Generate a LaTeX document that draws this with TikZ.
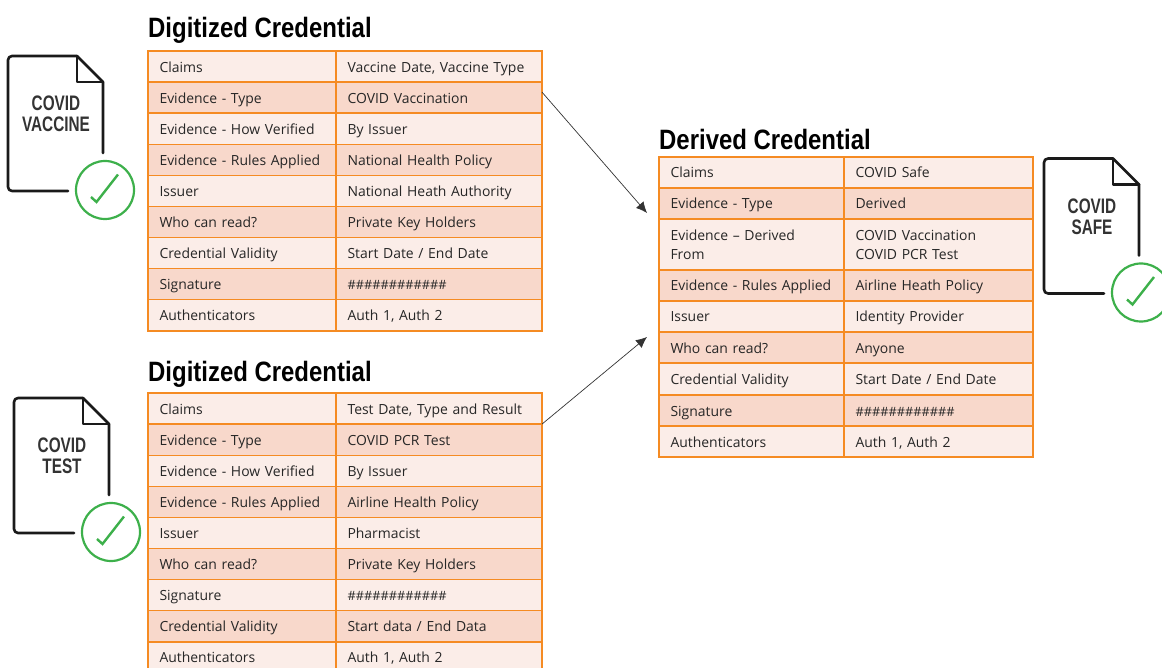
\documentclass[tikz,border=0pt]{standalone}
\usepackage{fontspec}
\setmainfont{Open Sans}
\newfontfamily\titlefont[FakeStretch=0.855]{Liberation Sans}
\newfontfamily\iconfont[FakeStretch=0.73]{Liberation Sans}
\usetikzlibrary{arrows.meta}
\definecolor{credorange}{HTML}{F58B23}
\definecolor{rowlight}{HTML}{FBEDE8}
\definecolor{rowdark}{HTML}{F8D8CB}
\definecolor{checkgreen}{HTML}{3DB04B}
\definecolor{docblack}{HTML}{1A1A1A}
\tikzset{
  credcell/.style={draw=credorange, line width=1.4pt, inner ysep=0pt, inner xsep=11.5pt, outer sep=0pt,
    anchor=north west, align=left, font=\fontsize{13.95}{19}\selectfont, text=black!85},
  credtitle/.style={anchor=base west, inner sep=0pt, font=\titlefont\bfseries\fontsize{28}{32}\selectfont},
  doclabel/.style={inner sep=0pt, align=center, text=black!80, font=\iconfont\bfseries\fontsize{21}{21}\selectfont},
  docline/.style={draw=docblack, line width=2.6pt, line cap=round, line join=round},
  flowarrow/.style={draw=black!80, line width=0.7pt, -{Latex[length=11pt,width=10pt]}}
}
\newcommand{\hashrun}{{\fontsize{12.8}{19}\selectfont\#\#\#\#\#\#\#\#\#\#\#\#}}
\newcommand{\credstrut}{\rule[-4pt]{0pt}{19pt}}
% one row of a table: name, left x, mid x, right x, top y, height, fill, two texts
\newcommand{\credrow}[9]{
\pgfmathsetmacro{\widthA}{#3-#2}
\pgfmathsetmacro{\widthB}{#4-#3}
\node[credcell, fill=#7, text width=\widthA pt-23pt, minimum height=#6 pt] (#1l) at (#2,#5) {\credstrut #8\credstrut};
\node[credcell, fill=#7, text width=\widthB pt-23pt, minimum height=#6 pt] (#1r) at (#3,#5) {\credstrut #9\credstrut};
}
% document icon with its tick
\newcommand{\covidicon}[4]{
\begin{scope}[shift={(#2,#3)}]
\draw[docline, rounded corners=4pt] (68,191) -- (8,191) -- (8,56) -- (77,56);
\draw[docline] (77,56) -- (103,82) -- (103,153);
\draw[docline] (77,56) -- (77,82) -- (103,82);
\node[doclabel] (#1label) at (56,114) {#4};
\node[circle, draw=checkgreen, line width=2.2pt, minimum size=58pt, inner sep=0pt] (#1check) at (105,190) {};
\draw[draw=checkgreen, line width=2.4pt] (91,197) -- (96.5,202) -- (118,174.5);
\end{scope}
}
\begin{document}
\begin{tikzpicture}[x=1pt,y=-1pt]
\useasboundingbox (0,0) rectangle (1162,668);

\covidicon{vaccine}{0}{0}{COVID\\VACCINE}
\covidicon{test}{6}{342}{COVID\\TEST}
\covidicon{safe}{1036}{102.5}{COVID\\SAFE}

\node[credtitle] (vactitle) at (148,38) {Digitized Credential};
\foreach \lab/\val [count=\n] in {Claims/{Vaccine Date, Vaccine Type}, Evidence - Type/COVID Vaccination, Evidence - How Verified/By Issuer, Evidence - Rules Applied/National Health Policy, Issuer/National Heath Authority, Who can read?/Private Key Holders, Credential Validity/{Start Date / End Date}, Signature/\hashrun, Authenticators/{Auth 1, Auth 2}}{
  \pgfmathsetmacro{\rowtop}{51+(\n-1)*31.1}
  \pgfmathparse{int(mod(\n,2))}
  \ifnum\pgfmathresult=1 \def\shade{rowlight}\else\def\shade{rowdark}\fi
  \credrow{vac\n}{148}{336}{542}{\rowtop}{31.1}{\shade}{\lab}{\val}
}

\node[credtitle] (testtitle) at (148,381) {Digitized Credential};
\foreach \lab/\val [count=\n] in {Claims/{Test Date, Type and Result}, Evidence - Type/COVID PCR Test, Evidence - How Verified/By Issuer, Evidence - Rules Applied/Airline Health Policy, Issuer/Pharmacist, Who can read?/Private Key Holders, Signature/\hashrun, Credential Validity/{Start data / End Data}, Authenticators/{Auth 1, Auth 2}}{
  \pgfmathsetmacro{\rowtop}{393+(\n-1)*31.1}
  \pgfmathparse{int(mod(\n,2))}
  \ifnum\pgfmathresult=1 \def\shade{rowlight}\else\def\shade{rowdark}\fi
  \credrow{test\n}{148}{336}{542}{\rowtop}{31.1}{\shade}{\lab}{\val}
}

\node[credtitle] (dertitle) at (659,150) {Derived Credential};
\credrow{der1}{659}{844}{1033}{157}{31}{rowlight}{Claims}{COVID Safe}
\credrow{der2}{659}{844}{1033}{188}{31}{rowdark}{Evidence - Type}{Derived}
\credrow{der3}{659}{844}{1033}{219}{51}{rowlight}{Evidence -- Derived\\From}{COVID Vaccination\\COVID PCR Test}
\credrow{der4}{659}{844}{1033}{270}{31}{rowdark}{Evidence - Rules Applied}{Airline Heath Policy}
\credrow{der5}{659}{844}{1033}{301}{31}{rowlight}{Issuer}{Identity Provider}
\credrow{der6}{659}{844}{1033}{332}{31}{rowdark}{Who can read?}{Anyone}
\credrow{der7}{659}{844}{1033}{363}{32}{rowlight}{Credential Validity}{Start Date / End Date}
\credrow{der8}{659}{844}{1033}{395}{31}{rowdark}{Signature}{\hashrun}
\credrow{der9}{659}{844}{1033}{426}{31}{rowlight}{Authenticators}{Auth 1, Auth 2}

\coordinate (vacend) at (647,213);
\coordinate (testend) at (647,337);
\draw[flowarrow] ([yshift=5.5pt]vac2r.east) -- (vacend);
\draw[flowarrow] (test1r.south east) -- (testend);
\end{tikzpicture}
\end{document}
